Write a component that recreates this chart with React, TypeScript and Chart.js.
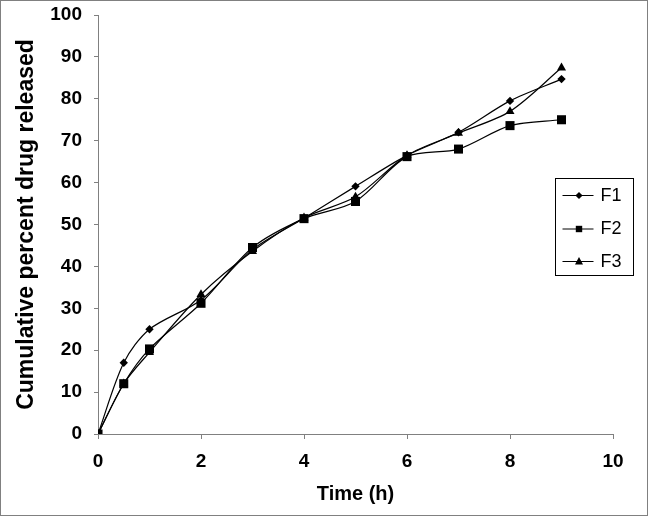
import React, { useEffect, useRef } from "react";
import { Chart, registerables } from "chart.js";

Chart.register(...registerables);

const timeH = [0, 0.5, 1, 2, 3, 4, 5, 6, 7, 8, 9];
const f1 = [0, 17, 25, 32, 44, 51.5, 59.1, 66.5, 72, 79.5, 84.7];
const f2 = [0, 12, 20.3, 31.2, 44.5, 51.4, 55.5, 66.2, 68, 73.6, 75];
const f3 = [0, 12, 19.5, 33.3, 43.6, 51.6, 56.6, 66.5, 71.8, 77, 87.4];
const seriesNames = ["F1", "F2", "F3"];
const xTicks = [0, 2, 4, 6, 8, 10];
const yTicks = [0, 10, 20, 30, 40, 50, 60, 70, 80, 90, 100];

const FONT = "'Liberation Sans', Arial, Helvetica, sans-serif";
const AXIS_GRAY = "#808080";

function drawMarker(ctx: CanvasRenderingContext2D, kind: string, x: number, y: number, r: number) {
  ctx.beginPath();
  if (kind === "rectRot") {
    ctx.moveTo(x, y - r);
    ctx.lineTo(x + r, y);
    ctx.lineTo(x, y + r);
    ctx.lineTo(x - r, y);
  } else if (kind === "rect") {
    ctx.rect(x - r, y - r, 2 * r, 2 * r);
  } else {
    ctx.moveTo(x, y - r * 1.1);
    ctx.lineTo(x + r, y + r * 0.75);
    ctx.lineTo(x - r, y + r * 0.75);
  }
  ctx.closePath();
  ctx.fill();
}

const frameAndLegend = {
  id: "frameAndLegend",
  afterDraw(chart: any) {
    const ctx: CanvasRenderingContext2D = chart.ctx;
    ctx.save();
    // outer frame
    ctx.strokeStyle = AXIS_GRAY;
    ctx.lineWidth = 1;
    ctx.strokeRect(0.5, 0.5, 647, 515);
    // legend box
    ctx.strokeStyle = "#000";
    ctx.strokeRect(555.5, 178.5, 78, 97);
    const rows = [195, 228.5, 261];
    const kinds = ["rectRot", "rect", "triangle"];
    const rs = [3.6, 3.2, 4];
    ctx.font = `18px ${FONT}`;
    ctx.textBaseline = "middle";
    ctx.textAlign = "left";
    ctx.fillStyle = "#000";
    seriesNames.forEach((name, i) => {
      const y = rows[i];
      ctx.beginPath();
      ctx.moveTo(562.5, y + 0.5);
      ctx.lineTo(593.5, y + 0.5);
      ctx.stroke();
      drawMarker(ctx, kinds[i], 579, y + 0.5, rs[i]);
      ctx.fillText(name, 600.5, y + 1);
    });
    ctx.restore();
  },
};

export default function App() {
  const ref = useRef<HTMLCanvasElement | null>(null);
  useEffect(() => {
    document.body.style.margin = "0";
    const canvas = ref.current;
    if (!canvas) return;
    const mk = (label: string, data: number[], style: string, radius: number) => ({
      label,
      data: timeH.map((x, i) => ({ x, y: data[i] })),
      borderColor: "#000",
      backgroundColor: "#000",
      borderWidth: 1.2,
      pointStyle: style,
      pointRadius: radius,
      pointBorderWidth: 0,
      pointBackgroundColor: "#000",
      tension: 0.3,
      fill: false,
    });
    const chart = new Chart(canvas, {
      type: "line",
      data: {
        datasets: [
          mk("F1", f1, "rectRot", 4.2),
          mk("F3", f3, "triangle", 5.2),
          mk("F2", f2, "rect", 6.4),
        ],
      },
      options: {
        animation: false,
        responsive: false,
        devicePixelRatio: 1,
        layout: { padding: { left: 0, top: 15, right: 36, bottom: 0 } },
        plugins: { legend: { display: false }, tooltip: { enabled: false } },
        scales: {
          x: {
            type: "linear",
            min: 0,
            max: 10,
            afterBuildTicks: (s: any) => {
              s.ticks = xTicks.map((v) => ({ value: v }));
            },
            afterFit: (s: any) => {
              s.height = 83;
              s.paddingLeft = 0;
              s.paddingRight = 0;
              s.paddingTop = 0;
              s.paddingBottom = 0;
            },
            grid: { drawOnChartArea: false, drawTicks: true, tickLength: 5, color: AXIS_GRAY },
            border: { display: true, color: AXIS_GRAY, width: 1 },
            ticks: {
              padding: 11,
              maxRotation: 0,
              color: "#000",
              font: { family: FONT, size: 19, weight: "bold" },
            },
            title: {
              display: true,
              text: "Time (h)",
              color: "#000",
              font: { family: FONT, size: 20, weight: "bold" },
              padding: { top: 0, bottom: 11 },
            },
          },
          y: {
            type: "linear",
            min: 0,
            max: 100,
            afterBuildTicks: (s: any) => {
              s.ticks = yTicks.map((v) => ({ value: v }));
            },
            afterFit: (s: any) => {
              s.width = 98;
              s.paddingLeft = 0;
              s.paddingRight = 0;
              s.paddingTop = 0;
              s.paddingBottom = 0;
            },
            grid: { drawOnChartArea: false, drawTicks: true, tickLength: 4, color: AXIS_GRAY },
            border: { display: true, color: AXIS_GRAY, width: 1 },
            ticks: {
              padding: 12,
              color: "#000",
              font: { family: FONT, size: 19, weight: "bold" },
            },
            title: {
              display: true,
              text: "Cumulative percent drug released",
              color: "#000",
              font: { family: FONT, size: 23, weight: "bold" },
              padding: { top: 13, bottom: 0 },
            },
          },
        },
      },
      plugins: [frameAndLegend],
    } as any);
    return () => chart.destroy();
  }, []);
  return (
    <div style={{ width: 649, height: 517, background: "#fff" }}>
      <canvas ref={ref} width={649} height={517} style={{ display: "block" }} />
    </div>
  );
}
